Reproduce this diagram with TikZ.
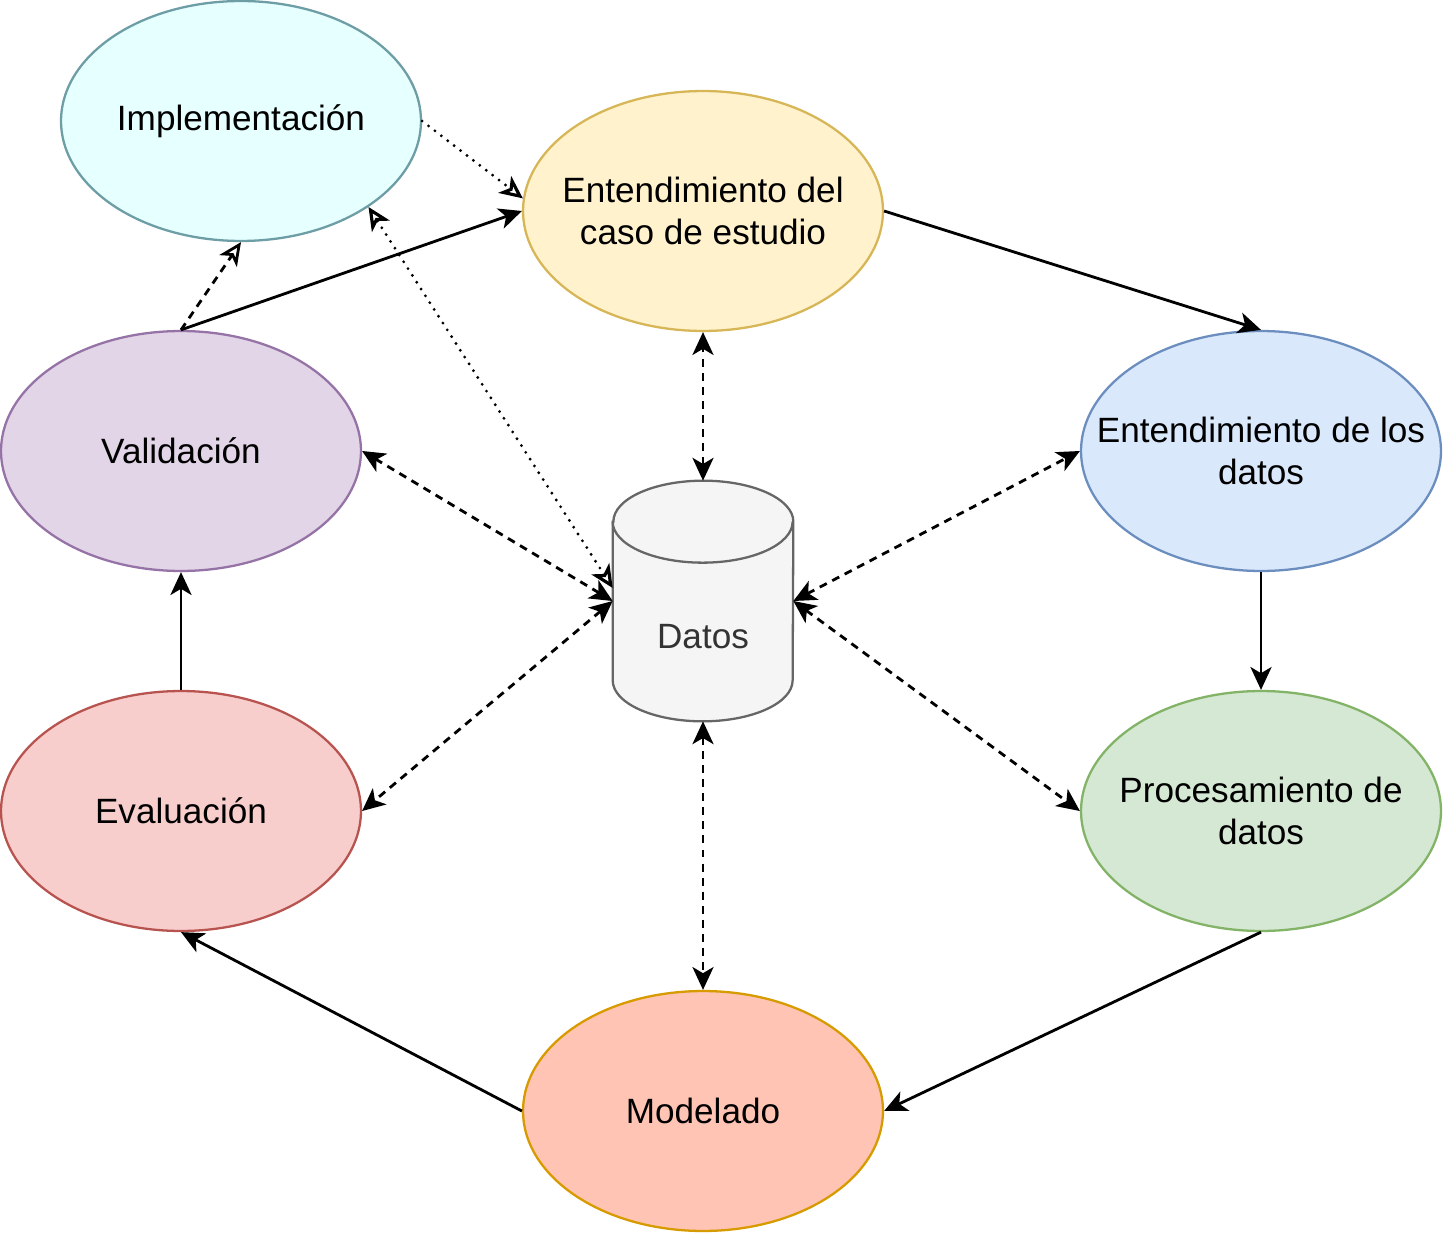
\documentclass[tikz,border=0pt]{standalone}
\usepackage{fontspec}
\setmainfont{Liberation Sans}
\usetikzlibrary{shapes.geometric,arrows.meta}
\definecolor{implfill}{HTML}{E6FFFF}\definecolor{impldraw}{HTML}{6D9DA5}
\definecolor{casofill}{HTML}{FFF2CC}\definecolor{casodraw}{HTML}{D6B656}
\definecolor{valfill}{HTML}{E1D5E7}\definecolor{valdraw}{HTML}{9673A6}
\definecolor{edfill}{HTML}{DAE8FC}\definecolor{eddraw}{HTML}{6C8EBF}
\definecolor{evalfill}{HTML}{F8CECC}\definecolor{evaldraw}{HTML}{B85450}
\definecolor{procfill}{HTML}{D5E8D4}\definecolor{procdraw}{HTML}{82B366}
\definecolor{modfill}{HTML}{FFC4B3}\definecolor{moddraw}{HTML}{D79B00}
\definecolor{datfill}{HTML}{F5F5F5}\definecolor{datdraw}{HTML}{666666}\definecolor{dattext}{HTML}{333333}
\begin{document}
\begin{tikzpicture}[x=0.02cm, y=-0.02cm,
	fase/.style={ellipse, draw, line width=1.3pt, minimum width=7.2cm, minimum height=4.8cm, inner xsep=-1cm, inner ysep=0pt, align=center, font=\fontsize{20}{24}\selectfont},
	flujo/.style={line width=1.6pt, -{Stealth[length=13pt,width=12pt,inset=3.5pt]}},
	enlace/.style={line width=1.6pt, dash pattern=on 4.5pt off 3.5pt, {Stealth[length=13pt,width=12pt,inset=3.5pt]}-{Stealth[length=13pt,width=12pt,inset=3.5pt]}},
	abierta/.style={-{Stealth[open,length=13pt,width=12pt,inset=3.5pt]}},
	punteada/.style={line width=1.8pt, dash pattern=on 0pt off 4.6pt, line cap=round},
	cilindro/.style={fill=datfill, draw=datdraw, line width=1.3pt}]
	\useasboundingbox (0,0) rectangle (1443,1233);
	\node[fase, fill=implfill, draw=impldraw] (impl) at (241,121) {Implementación};
	\node[fase, fill=casofill, draw=casodraw] (caso) at (703,211) {Entendimiento del\\caso de estudio};
	\node[fase, fill=valfill, draw=valdraw] (val) at (181,451) {Validación};
	\node[fase, fill=edfill, draw=eddraw] (datosent) at (1261,451) {Entendimiento de los\\datos};
	\node[fase, fill=evalfill, draw=evaldraw] (eval) at (181,811) {Evaluación};
	\node[fase, fill=procfill, draw=procdraw] (proc) at (1261,811) {Procesamiento de\\datos};
	\node[fase, fill=modfill, draw=moddraw] (model) at (703,1111) {Modelado};
	\node[rectangle, minimum width=3.6cm, minimum height=4.8cm, inner sep=0pt] (datos) at (703,601) {};
	\draw[cilindro] ([yshift=-0.82cm]datos.north west) -- ([yshift=0.82cm]datos.south west) arc[start angle=180, end angle=360, x radius=1.8cm, y radius=0.82cm] -- ([yshift=-0.82cm]datos.north east) arc[start angle=0, end angle=180, x radius=1.8cm, y radius=0.82cm] -- cycle;
	\draw[datdraw, line width=1.3pt] ([yshift=-0.82cm]datos.north west) arc[start angle=180, end angle=360, x radius=1.8cm, y radius=0.82cm];
	\node[text=dattext, font=\fontsize{20}{24}\selectfont] (datoslbl) at (703,637) {Datos};
	\draw[flujo] (val.north) -- (caso.west); \draw[flujo] (caso.east) -- (datosent.north);
	\draw[flujo] (datosent.south) -- (proc.north); \draw[flujo] (proc.south) -- (model.east);
	\draw[flujo] (model.west) -- (eval.south); \draw[flujo] (eval.north) -- (val.south);
	\draw[abierta, line width=1.6pt, dash pattern=on 4.5pt off 3.5pt] (val.north) -- (impl.south);
	\draw[abierta, punteada] (impl.east) -- (caso.176);
	\draw[{Stealth[open,length=13pt,width=12pt,inset=3.5pt]}-{Stealth[open,length=13pt,width=12pt,inset=3.5pt]}, punteada] ([yshift=0.26cm]datos.west) -- (impl.-34);
	\draw[enlace] (datos.north) -- (caso.south); \draw[enlace] (datos.south) -- (model.north);
	\draw[enlace] (datos.west) -- (val.east); \draw[enlace] (datos.west) -- (eval.east);
	\draw[enlace] (datos.east) -- (datosent.west); \draw[enlace] (datos.east) -- (proc.west);
\end{tikzpicture}
\end{document}
